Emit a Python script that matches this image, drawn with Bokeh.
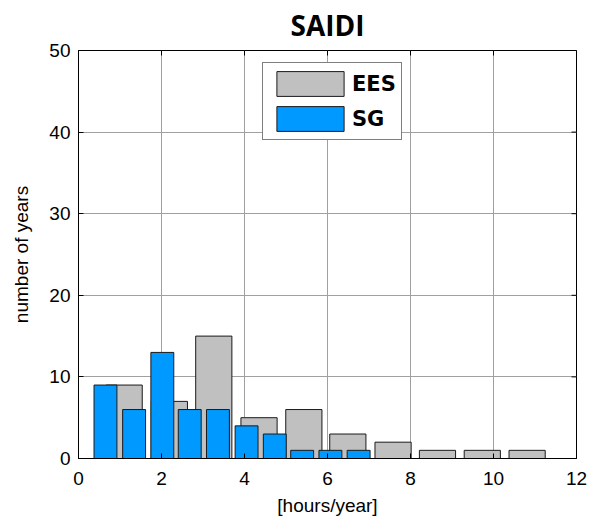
import math
from bokeh.plotting import figure
from bokeh.models import (Range1d, FixedTicker, Legend, LegendItem,
                          ColumnDataSource)
from bokeh.embed import file_html
from bokeh.resources import INLINE

# Histogram of SAIDI values (hours/year) over 50 years
ees_centers = [1.10, 2.19, 3.26, 4.35, 5.43, 6.49, 7.58, 8.65, 9.73, 10.81]
ees_counts = [9, 7, 15, 5, 6, 3, 2, 1, 1, 1]
sg_centers = [0.65, 1.34, 2.02, 2.68, 3.36, 4.05, 4.73, 5.39, 6.07, 6.75]
sg_counts = [9, 6, 13, 6, 6, 4, 3, 1, 1, 1]
x_ticks = [0, 2, 4, 6, 8, 10, 12]
y_ticks = [0, 10, 20, 30, 40, 50]

X_MAX = 12
Y_MAX = 50

ees_width = 0.8 * (ees_centers[1] - ees_centers[0])
sg_width = 0.8 * (sg_centers[1] - sg_centers[0])

p = figure(width=599, height=523, output_backend="svg", toolbar_location=None,
           x_range=Range1d(0, X_MAX), y_range=Range1d(0, Y_MAX),
           min_border_left=78, min_border_right=23,
           min_border_top=50, min_border_bottom=65,
           title="SAIDI")

p.title.text_font = "Open Sans"
p.title.text_font_size = "28px"
p.title.text_font_style = "bold"
p.title.align = "center"
p.title.vertical_align = "top"
p.title.text_color = "black"
p.title.standoff = 9

p.background_fill_color = "white"
p.border_fill_color = "white"
p.outline_line_color = "black"
p.outline_line_width = 1

src_ees = ColumnDataSource(dict(x=ees_centers, top=ees_counts))
src_sg = ColumnDataSource(dict(x=sg_centers, top=sg_counts))

r_ees = p.vbar(x="x", top="top", bottom=0, width=ees_width, source=src_ees,
               fill_color="#c0c0c0", line_color="#1a1a1a", line_width=1)
r_sg = p.vbar(x="x", top="top", bottom=0, width=sg_width, source=src_sg,
              fill_color="#0099ff", line_color="#1a1a1a", line_width=1)

for ax in (p.xaxis[0], p.yaxis[0]):
    ax.major_tick_in = 5
    ax.major_tick_out = 0
    ax.minor_tick_line_color = None
    ax.axis_line_color = "black"
    ax.major_tick_line_color = "black"
    ax.major_label_text_font = "Liberation Sans"
    ax.major_label_text_font_size = "19px"
    ax.major_label_text_color = "black"
    ax.axis_label_text_font = "Liberation Sans"
    ax.axis_label_text_font_size = "19px"
    ax.axis_label_text_font_style = "normal"
    ax.axis_label_text_color = "black"

p.xaxis[0].ticker = FixedTicker(ticks=x_ticks)
p.yaxis[0].ticker = FixedTicker(ticks=y_ticks)
p.xaxis[0].axis_label = "[hours/year]"
p.yaxis[0].axis_label = "number of years"
p.xaxis[0].major_label_standoff = 13
p.xaxis[0].axis_label_standoff = 7
p.yaxis[0].major_label_standoff = 8
p.yaxis[0].axis_label_standoff = 14

# mirrored tick marks on the top and right edges of the box
p.scatter(x=x_ticks, y=[Y_MAX] * len(x_ticks), marker="dash", size=10,
          angle=math.pi / 2, line_color="black", line_width=1)
p.scatter(x=[X_MAX] * len(y_ticks), y=y_ticks, marker="dash", size=10,
          line_color="black", line_width=1)

p.xgrid.ticker = FixedTicker(ticks=x_ticks)
p.ygrid.ticker = FixedTicker(ticks=y_ticks)
p.grid.grid_line_color = "#a0a0a0"
p.grid.grid_line_width = 1

legend = Legend(items=[LegendItem(label="EES", renderers=[r_ees]),
                       LegendItem(label="SG", renderers=[r_sg])],
                location=(184, 318))
legend.label_text_font = "DejaVu Sans"
legend.label_text_font_style = "bold"
legend.label_text_font_size = "21px"
legend.label_text_color = "black"
legend.glyph_width = 84
legend.glyph_height = 31
legend.label_height = 25
legend.spacing = 4
legend.padding = 5
legend.margin = 0
legend.label_standoff = 0
legend.border_line_color = "black"
legend.border_line_width = 1
legend.background_fill_color = "white"
legend.background_fill_alpha = 1
p.add_layout(legend, "center")

open("out.html", "w").write(file_html(p, INLINE))
